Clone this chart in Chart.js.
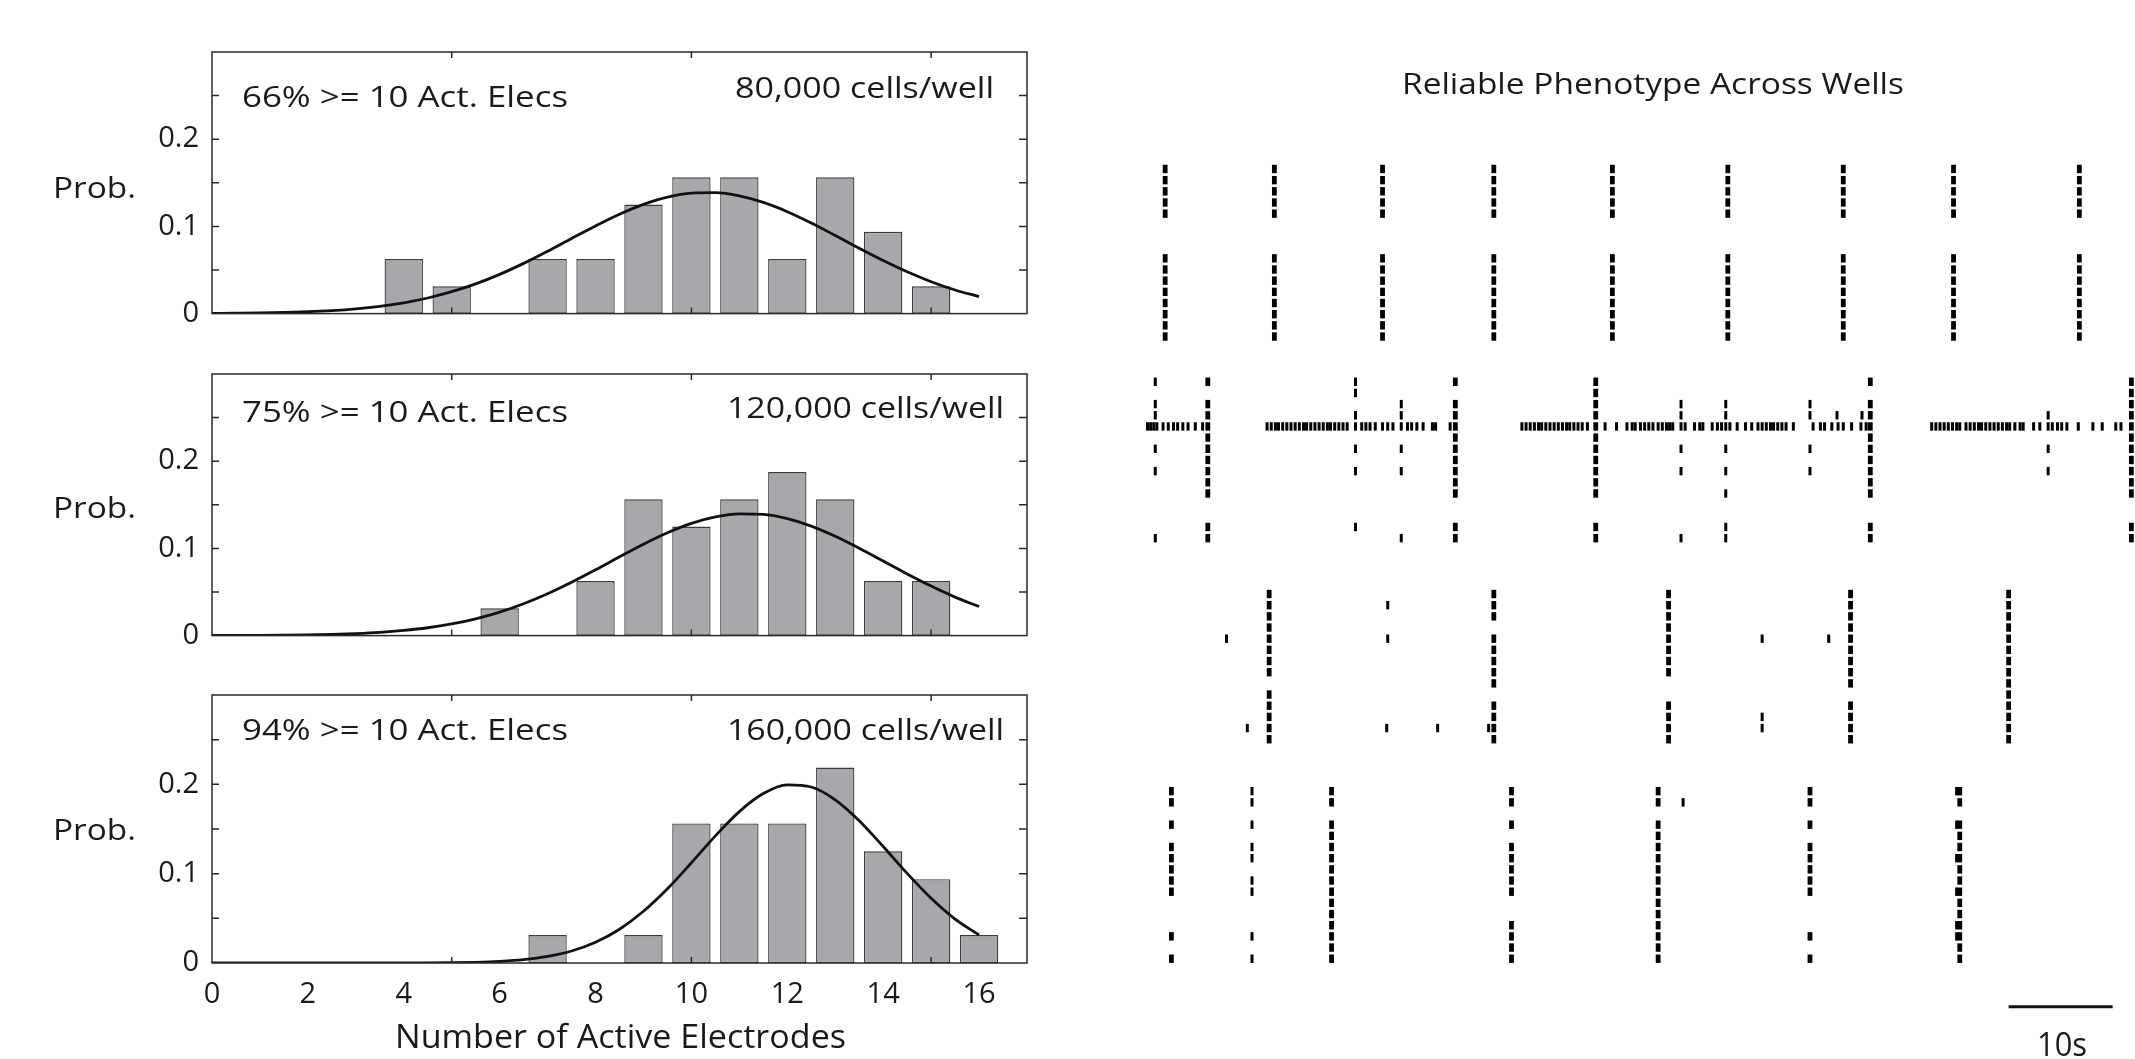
<!DOCTYPE html>
<html>
<head>
<meta charset="utf-8">
<script src="https://cdn.jsdelivr.net/npm/chart.js@4.4.1/dist/chart.umd.min.js"></script>
<style>
  body { margin: 0; background: #fff; }
  #page { position: relative; width: 2135px; height: 1059px; overflow: hidden; background: #fff; }
  canvas { position: absolute; }
</style>
</head>
<body>
<div id="page">
  <canvas id="hist1" width="1040" height="344" style="left:0;top:0"></canvas>
  <canvas id="hist2" width="1040" height="344" style="left:0;top:322px"></canvas>
  <canvas id="hist3" width="1040" height="416" style="left:0;top:643px"></canvas>
  <canvas id="raster" width="1035" height="1059" style="left:1100px;top:0"></canvas>
</div>
<script>
// ---- histogram data: number of active electrodes -> probability ----
const bins80k  = [4, 5, 7, 8, 9, 10, 11, 12, 13, 14, 15];
const prob80k  = [0.0625, 0.03125, 0.0625, 0.0625, 0.125, 0.15625, 0.15625, 0.0625, 0.15625, 0.09375, 0.03125];
const bins120k = [6, 8, 9, 10, 11, 12, 13, 14, 15];
const prob120k = [0.03125, 0.0625, 0.15625, 0.125, 0.15625, 0.1875, 0.15625, 0.0625, 0.0625];
const bins160k = [7, 9, 10, 11, 12, 13, 14, 15, 16];
const prob160k = [0.03125, 0.03125, 0.15625, 0.15625, 0.15625, 0.21875, 0.125, 0.09375, 0.03125];

// fitted curves, every half electrode
const fitX = [0, 0.5, 1, 1.5, 2, 2.5, 3, 3.5, 4, 4.5, 5, 5.5, 6, 6.5, 7, 7.5, 8,
              8.5, 9, 9.5, 10, 10.5, 11, 11.5, 12, 12.5, 13, 13.5, 14, 14.5, 15, 15.5, 16];
const fit80k = [0.0002, 0.0004, 0.0007, 0.0013, 0.0021, 0.0034, 0.0054, 0.0083, 0.0124, 0.0179, 0.0251, 0.0341, 0.045, 0.0576, 0.0715, 0.0861, 0.1005,
                0.1139, 0.1252, 0.1336, 0.1382, 0.1387, 0.135, 0.1275, 0.1169, 0.1039, 0.0896, 0.0749, 0.0608, 0.0479, 0.0366, 0.0271, 0.0195];
const fit120k = [0.0001, 0.0001, 0.0002, 0.0004, 0.0008, 0.0014, 0.0023, 0.0037, 0.0059, 0.009, 0.0134, 0.0193, 0.027, 0.0366, 0.048, 0.0611, 0.0754,
                 0.0903, 0.1048, 0.1179, 0.1287, 0.1362, 0.1397, 0.1391, 0.1342, 0.1256, 0.1139, 0.1002, 0.0855, 0.0707, 0.0568, 0.0441, 0.0333];
const fit160k = [0, 0, 0, 0, 0, 0, 0, 0, 0.0001, 0.0001, 0.0003, 0.0008, 0.0018, 0.0037, 0.0073, 0.0134, 0.0232,
                 0.0378, 0.0579, 0.0831, 0.1122, 0.1423, 0.1695, 0.1897, 0.1994, 0.197, 0.1827, 0.1593, 0.1304, 0.1003, 0.0725, 0.0492, 0.0314];

const yTicks = [0, 0.1, 0.2];
const xTicks = [0, 2, 4, 6, 8, 10, 12, 14, 16];
const yMinorTicks = [0.05, 0.1, 0.15, 0.2, 0.25];
const xMinorTicks = [5, 10, 15];

const cellLabels   = ['80,000 cells/well', '120,000 cells/well', '160,000 cells/well'];
const activeLabels = ['66% >= 10 Act. Elecs', '75% >= 10 Act. Elecs', '94% >= 10 Act. Elecs'];
const yTitle = 'Prob.';
const xTitle = 'Number of Active Electrodes';
const rasterTitle = 'Reliable Phenotype Across Wells';
const scaleBarLabel = '10s';
const scaleBarSeconds = [84, 94];

// ---- raster: spike times (s) per channel, 4 wells ----
const well1Bursts = [2.9, 13.4, 23.8, 34.5, 45.9, 57.0, 68.1, 78.7, 90.8];
const well1Channels = [0, 1, 2, 3, 4, 8, 9, 10, 11, 12, 13, 14, 15];

const well2Bursts = [7.0, 30.8, 44.3, 70.7, 95.8];
const well2Spikes = [
  [1.95, 7.0, 21.2, 30.8, 44.3, 70.7, 95.8],
  [21.2, 44.3, 95.8],
  [1.95, 7.0, 25.6, 30.8, 44.3, 52.5, 56.8, 64.9, 70.7, 95.8],
  [1.95, 7.0, 21.2, 25.6, 30.8, 44.3, 52.5, 56.8, 64.9, 67.5, 69.9, 70.7, 87.8, 95.8],
  [1.2, 1.5, 1.8, 2.1, 2.7, 3.2, 3.7, 4.1, 4.6, 5.1, 5.8, 6.5, 7.0,
   12.7, 13.1, 13.5, 13.8, 14.2, 14.6, 15.0, 15.4, 15.8, 16.2, 16.5, 16.9, 17.3, 17.7, 18.1, 18.5, 18.8, 19.2, 19.6, 20.0, 20.4,
   21.2, 21.8, 22.2, 22.6, 23.1, 23.8, 24.3, 24.8, 25.6, 26.2, 26.6, 27.1, 27.7, 28.6, 28.9, 30.3, 30.8,
   37.2, 37.6, 38.0, 38.4, 38.8, 39.1, 39.5, 39.9, 40.3, 40.7, 41.1, 41.5, 41.8, 42.2, 42.6, 43.0, 43.5, 44.3,
   45.2, 46.3, 47.3, 47.8, 48.1, 48.6, 49.0, 49.4, 49.8, 50.3, 50.7, 51.1, 51.4, 51.7, 52.5, 52.9, 53.8, 54.3, 54.6,
   55.5, 56.0, 56.4, 56.8, 57.2, 57.9, 58.7, 59.3, 59.9, 60.3, 60.7, 61.1, 61.4, 61.8, 62.2, 62.6, 63.3,
   65.2, 65.9, 66.3, 67.0, 67.6, 68.1, 68.9, 69.8, 70.3, 70.7,
   76.6, 77.0, 77.4, 77.8, 78.2, 78.6, 79.0, 79.3, 79.9, 80.3, 80.7, 81.1, 81.4, 81.8, 82.2, 82.6, 83.0, 83.4, 83.8, 84.1,
   84.6, 85.1, 85.4, 86.4, 87.0, 87.8, 88.2, 88.7, 89.1, 89.6, 90.7, 92.1, 93.0, 94.3, 94.8, 95.8],
  [7.0, 30.8, 44.3, 70.7, 95.8],
  [1.95, 7.0, 21.2, 25.6, 30.8, 44.3, 52.5, 56.8, 64.9, 70.7, 87.8, 95.8],
  [7.0, 30.8, 44.3, 70.7, 95.8],
  [1.95, 7.0, 21.2, 25.6, 30.8, 44.3, 52.5, 56.8, 64.9, 70.7, 87.8, 95.8],
  [7.0, 30.8, 44.3, 70.7, 95.8],
  [7.0, 30.8, 44.3, 56.8, 70.7, 95.8],
  [],
  [],
  [7.0, 21.2, 30.8, 44.3, 56.8, 70.7, 95.8],
  [1.95, 7.0, 25.6, 30.8, 44.3, 52.5, 56.8, 70.7, 95.8],
  []
];

const well3Bursts = [12.9, 34.5, 51.3, 68.8, 84.0];
const well3Spikes = [
  [12.9, 34.5, 51.3, 68.8, 84.0],
  [12.9, 24.3, 34.5, 51.3, 68.8, 84.0],
  [12.9, 34.5, 51.3, 68.8, 84.0],
  [12.9, 51.3, 68.8, 84.0],
  [8.8, 12.9, 24.3, 34.5, 51.3, 60.3, 66.7, 68.8, 84.0],
  [12.9, 34.5, 51.3, 68.8, 84.0],
  [12.9, 34.5, 51.3, 68.8, 84.0],
  [12.9, 34.5, 51.3, 68.8, 84.0],
  [34.5, 68.8, 84.0],
  [12.9, 84.0],
  [12.9, 34.5, 51.3, 68.8, 84.0],
  [12.9, 34.5, 51.3, 60.3, 68.8, 84.0],
  [10.8, 12.9, 24.2, 29.1, 34.0, 34.5, 51.3, 60.3, 68.8, 84.0],
  [12.9, 34.5, 51.3, 68.8, 84.0]
];

const well4Bursts = [3.5, 18.9, 36.2, 50.3, 64.9, 79.3];
const well4Spikes = [
  [3.5, 11.25, 18.9, 36.2, 50.3, 64.9, 79.0, 79.3],
  [3.5, 11.25, 18.9, 36.2, 50.3, 52.7, 64.9, 79.3],
  [],
  [3.5, 11.25, 18.9, 36.2, 50.3, 64.9, 79.0, 79.3],
  [18.9, 50.3, 79.3],
  [3.5, 11.25, 18.9, 36.2, 50.3, 64.9, 79.3],
  [3.5, 11.25, 18.9, 36.2, 50.3, 64.9, 79.0, 79.3],
  [3.5, 18.9, 36.2, 50.3, 64.9, 79.3],
  [3.5, 11.25, 18.9, 36.2, 50.3, 64.9, 79.3],
  [3.5, 11.25, 18.9, 36.2, 50.3, 64.9, 79.0, 79.3],
  [18.9, 50.3, 79.3],
  [18.9, 50.3, 79.3],
  [18.9, 36.2, 50.3, 79.0, 79.3],
  [3.5, 11.25, 18.9, 36.2, 50.3, 64.9, 79.0, 79.3],
  [18.9, 36.2, 50.3, 79.3],
  [3.5, 11.25, 18.9, 36.2, 50.3, 64.9, 79.3]
];

// ---- layout (page pixels) ----
const layout = {
  canvasTops: [0, 322, 643],
  prob:   { left: 53, width: 83, size: 30, baselines: [198, 518, 840] },
  active: { left: 242, width: 326, size: 30, baselines: [107, 422, 740] },
  cells:  { rights: [994, 1004, 1004], widths: [259, 277, 277], size: 30, baselines: [98, 418, 740] },
  xTitle: { left: 395, width: 451, size: 33, baseline: 1048 },
  rasterLeft: 1100,
  title:  { left: 1402, width: 502, size: 30, baseline: 94 },
  barLabel: { left: 2037, width: 50, size: 33, baseline: 1056 },
  wellOffsets: [0, 19.05, 38.05, 55.7],
  scaleBarRow: 75
};

const FONT = '"Open Sans", "Noto Sans", sans-serif';
const INK = '#1a1a1a';

function fitText(ctx, text, left, baseline, size, width) {
  ctx.save();
  ctx.font = size + 'px ' + FONT;
  const w = ctx.measureText(text).width;
  ctx.translate(left, baseline);
  ctx.scale(width / w, 1);
  ctx.fillStyle = INK;
  ctx.textAlign = 'left';
  ctx.textBaseline = 'alphabetic';
  ctx.fillText(text, 0, 0);
  ctx.restore();
}

const histFrame = {
  id: 'histFrame',
  afterDraw(chart, args, opts) {
    const { ctx, chartArea: a, scales: { x, y } } = chart;
    const i = opts.panel;
    const top = layout.canvasTops[i];
    ctx.save();
    ctx.strokeStyle = '#2a2a2a';
    ctx.lineWidth = 1.5;
    ctx.strokeRect(a.left, a.top, a.right - a.left, a.bottom - a.top);
    ctx.beginPath();
    yMinorTicks.forEach(v => {
      const py = y.getPixelForValue(v);
      ctx.moveTo(a.left, py); ctx.lineTo(a.left + 7, py);
      ctx.moveTo(a.right, py); ctx.lineTo(a.right - 8, py);
    });
    xMinorTicks.forEach(v => {
      const px = x.getPixelForValue(v);
      ctx.moveTo(px, a.top); ctx.lineTo(px, a.top + 6);
      ctx.moveTo(px, a.bottom); ctx.lineTo(px, a.bottom - 6);
    });
    ctx.stroke();
    ctx.restore();

    fitText(ctx, yTitle, layout.prob.left, layout.prob.baselines[i] - top, layout.prob.size, layout.prob.width);
    fitText(ctx, activeLabels[i], layout.active.left, layout.active.baselines[i] - top, layout.active.size, layout.active.width);
    fitText(ctx, cellLabels[i], layout.cells.rights[i] - layout.cells.widths[i], layout.cells.baselines[i] - top,
            layout.cells.size, layout.cells.widths[i]);
    if (opts.showX) {
      fitText(ctx, xTitle, layout.xTitle.left, layout.xTitle.baseline - top, layout.xTitle.size, layout.xTitle.width);
    }
  }
};

function histChart(id, i, bins, probs, fit, showX) {
  return new Chart(document.getElementById(id), {
    type: 'bar',
    data: {
      datasets: [
        {
          type: 'line',
          data: fitX.map((v, k) => ({ x: v, y: fit[k] })),
          borderColor: '#111',
          borderWidth: 2.8,
          pointRadius: 0,
          cubicInterpolationMode: 'monotone',
          order: 0
        },
        {
          type: 'bar',
          data: bins.map((v, k) => ({ x: v, y: probs[k] })),
          backgroundColor: '#a6a8ab',
          borderColor: '#3c3c3c',
          borderWidth: 1.3,
          borderSkipped: false,
          barPercentage: 0.8,
          categoryPercentage: 1,
          order: 1
        }
      ]
    },
    options: {
      responsive: false,
      animation: false,
      events: [],
      layout: { autoPadding: false, padding: { left: 0, right: 13, top: 52, bottom: showX ? 0 : 24 } },
      plugins: {
        legend: { display: false },
        tooltip: { enabled: false },
        histFrame: { panel: i, showX: showX }
      },
      scales: {
        x: {
          type: 'linear', min: 0, max: 17, offset: false, display: showX,
          grid: { display: false, drawTicks: false }, border: { display: false },
          afterBuildTicks: s => { s.ticks = xTicks.map(v => ({ value: v })); },
          ticks: { font: { family: FONT, size: 29 }, color: INK, padding: 14, maxRotation: 0, autoSkip: false,
                   callback: v => String(v) },
          afterFit: s => { if (showX) s.height = 96; }
        },
        y: {
          min: 0, max: 0.3,
          grid: { display: false, drawTicks: false }, border: { display: false },
          afterBuildTicks: s => { s.ticks = yTicks.map(v => ({ value: v })); },
          ticks: { font: { family: FONT, size: 29 }, color: INK, padding: 13, callback: v => String(v) },
          afterFit: s => { s.width = 212; }
        }
      }
    },
    plugins: [histFrame]
  });
}

histChart('hist1', 0, bins80k, prob80k, fit80k, false);
histChart('hist2', 1, bins120k, prob120k, fit120k, false);
histChart('hist3', 2, bins160k, prob160k, fit160k, true);

// ---- raster ----
const well1Spikes = [];
for (let ch = 0; ch < 16; ch++) {
  well1Spikes.push(well1Channels.includes(ch) ? well1Bursts.slice() : []);
}
const wells = [
  { spikes: well1Spikes, bursts: well1Bursts },
  { spikes: well2Spikes, bursts: well2Bursts },
  { spikes: well3Spikes, bursts: well3Bursts },
  { spikes: well4Spikes, bursts: well4Bursts }
];

function spikePoints(thick) {
  const out = [];
  wells.forEach((w, wi) => {
    w.spikes.forEach((times, ch) => {
      times.forEach(t => {
        if (w.bursts.includes(t) === thick) out.push({ x: t, y: layout.wellOffsets[wi] + ch });
      });
    });
  });
  return out;
}

const rasterText = {
  id: 'rasterText',
  afterDraw(chart) {
    const ctx = chart.ctx;
    const L = layout.rasterLeft;
    fitText(ctx, rasterTitle, layout.title.left - L, layout.title.baseline, layout.title.size, layout.title.width);
    fitText(ctx, scaleBarLabel, layout.barLabel.left - L, layout.barLabel.baseline, layout.barLabel.size, layout.barLabel.width);
  }
};

const spikeStyle = {
  type: 'scatter',
  pointStyle: 'line',
  pointRotation: 90,
  pointRadius: 4.2,
  pointBorderColor: '#000',
  pointBackgroundColor: '#000',
  clip: false
};

new Chart(document.getElementById('raster'), {
  type: 'scatter',
  data: {
    datasets: [
      Object.assign({ data: spikePoints(false), pointBorderWidth: 3 }, spikeStyle),
      Object.assign({ data: spikePoints(true), pointBorderWidth: 4.8 }, spikeStyle),
      {
        type: 'line',
        data: scaleBarSeconds.map(t => ({ x: t, y: layout.scaleBarRow })),
        borderColor: '#111',
        borderWidth: 3,
        pointRadius: 0,
        clip: false
      }
    ]
  },
  options: {
    responsive: false,
    animation: false,
    events: [],
    layout: { autoPadding: false, padding: { left: 35, right: 0, top: 157.8, bottom: 29.9 } },
    plugins: { legend: { display: false }, tooltip: { enabled: false } },
    scales: {
      x: { type: 'linear', min: 0, max: 96.15, display: false },
      y: { type: 'linear', min: -1, max: 77, reverse: true, display: false }
    }
  },
  plugins: [rasterText]
});
</script>
</body>
</html>
